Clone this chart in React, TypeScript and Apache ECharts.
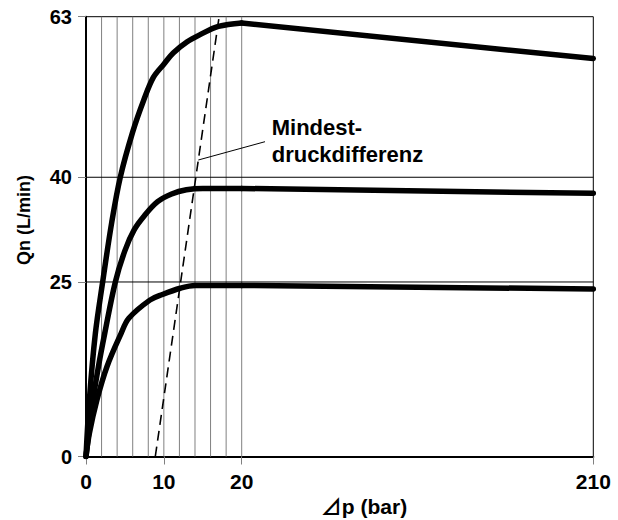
import React, { useEffect, useRef } from "react";
import * as echarts from "echarts";

// ---- data ----
const X_TICKS = [0, 10, 20, 210];
const Y_TICKS = [0, 25, 40, 63];
const GRID_X = [2, 4, 6, 8, 10, 12, 14, 16, 18, 20];
const GRID_Y = [25, 40];

const CURVE_63_X = [0, 0.43, 1.2, 2.14, 3.3, 4.4, 6.0, 7.4, 8.65, 10, 11.2, 13, 14.6, 17, 20, 210];
const CURVE_63_Y = [0, 8.1, 17.6, 25, 33.5, 40, 46.5, 51, 54.3, 56.2, 57.8, 59.4, 60.4, 61.6, 62.1, 57];

const CURVE_40_X = [0, 0.9, 1.6, 2.4, 3.77, 5, 6.2, 7.5, 9.2, 11, 12.9, 15, 20, 210];
const CURVE_40_Y = [0, 8.1, 12.9, 17.6, 25, 29.5, 32.5, 34.5, 36.5, 37.6, 38.2, 38.4, 38.4, 37.7];

const CURVE_25_X = [0, 0.43, 1.4, 2.7, 4.5, 5.5, 8.2, 9.8, 12.1, 14, 20, 210];
const CURVE_25_Y = [0, 3.3, 8.1, 12.9, 17.6, 19.8, 22.4, 23.2, 24.1, 24.5, 24.5, 24.0];

const DASH_X = [8.9, 17.1];
const DASH_Y = [0, 63];

// piecewise x scale: 0..20 linear, 20..210 compressed
const X_BREAK = 20;
const X_COMPRESS = 0.2377;
const tx = (x: number) => (x <= X_BREAK ? x : X_BREAK + (x - X_BREAK) * X_COMPRESS);
const T_MAX = tx(210);
const Y_MAX = 63;

const FONT = "'Liberation Sans', Arial, 'Noto Sans CJK JP', sans-serif";

const zip = (xs: number[], ys: number[]) => xs.map((x, i) => [tx(x), ys[i]]);

export default function App() {
  const ref = useRef<HTMLDivElement>(null);
  useEffect(() => {
    if (!ref.current) return;
    const chart = echarts.init(ref.current, null, { renderer: "svg" });

    const lineStyle = { color: "#000", width: 5.5, cap: "round", join: "round" };
    // curved rise up to the break (smooth) + straight run from the break to 210
    const curve = (name: string, xs: number[], ys: number[]) => {
      const k = xs.indexOf(X_BREAK);
      return [
        {
          name,
          type: "line",
          data: zip(xs.slice(0, k + 1), ys.slice(0, k + 1)),
          symbol: "none",
          smooth: 0.35,
          z: 5,
          silent: true,
          lineStyle,
        },
        {
          name,
          type: "line",
          data: zip(xs.slice(k), ys.slice(k)),
          symbol: "none",
          smooth: false,
          z: 5,
          silent: true,
          lineStyle,
        },
      ];
    };

    const gridV = GRID_X.map((x) => ({
      type: "line",
      data: [
        [tx(x), 0],
        [tx(x), Y_MAX],
      ],
      symbol: "none",
      z: 1,
      silent: true,
      lineStyle: { color: "#808080", width: 1 },
    }));
    const gridH = GRID_Y.map((y) => ({
      type: "line",
      data: [
        [0, y],
        [T_MAX, y],
      ],
      symbol: "none",
      z: 1,
      silent: true,
      lineStyle: { color: "#000", width: 1 },
    }));

    const option: any = {
      animation: false,
      grid: {
        left: 86,
        right: 24.7,
        top: 16.7,
        bottom: 63.5,
        show: true,
        borderColor: "#000",
        borderWidth: 1,
        backgroundColor: "transparent",
        outerBoundsMode: "none",
      },
      xAxis: {
        type: "value",
        min: 0,
        max: T_MAX,
        axisLine: { show: true, lineStyle: { color: "#000", width: 2 } },
        axisTick: {
          show: true,
          length: 8,
          customValues: X_TICKS.map(tx),
          lineStyle: { color: "#808080", width: 1 },
        },
        axisLabel: {
          customValues: X_TICKS.map(tx),
          margin: 14,
          color: "#000",
          fontWeight: "bold",
          fontSize: 21,
          fontFamily: FONT,
          formatter: (v: number) => {
            let best = X_TICKS[0];
            for (const x of X_TICKS) if (Math.abs(tx(x) - v) < Math.abs(tx(best) - v)) best = x;
            return String(best);
          },
        },
        splitLine: { show: false },
      },
      yAxis: {
        type: "value",
        min: 0,
        max: Y_MAX,
        axisLine: { show: true, lineStyle: { color: "#000", width: 2 } },
        axisTick: {
          show: true,
          length: 8,
          customValues: Y_TICKS,
          lineStyle: { color: "#808080", width: 1 },
        },
        axisLabel: {
          customValues: Y_TICKS,
          margin: 14,
          color: "#000",
          fontWeight: "bold",
          fontSize: 20,
          fontFamily: FONT,
        },
        splitLine: { show: false },
      },
      series: [
        ...gridV,
        ...gridH,
        {
          type: "line",
          data: zip(DASH_X, DASH_Y),
          symbol: "none",
          z: 4,
          silent: true,
          lineStyle: { color: "#000", width: 1.6, type: [10, 6] },
        },
        ...curve("63", CURVE_63_X, CURVE_63_Y),
        ...curve("40", CURVE_40_X, CURVE_40_Y),
        ...curve("25", CURVE_25_X, CURVE_25_Y),
      ],
      graphic: [
        {
          type: "line",
          shape: { x1: 198.3, y1: 160, x2: 265, y2: 141.7 },
          style: { stroke: "#000", lineWidth: 1 },
          z: 10,
        },
        {
          type: "text",
          x: 271.7,
          y: 127,
          style: {
            text: "Mindest-",
            fill: "#000",
            font: `bold 22px ${FONT}`,
            align: "left",
            verticalAlign: "middle",
          },
          z: 10,
        },
        {
          type: "text",
          x: 271.7,
          y: 154.4,
          style: {
            text: "druckdifferenz",
            fill: "#000",
            font: `bold 22px ${FONT}`,
            align: "left",
            verticalAlign: "middle",
          },
          z: 10,
        },
        {
          type: "text",
          x: 24,
          y: 220,
          rotation: Math.PI / 2,
          style: {
            text: "Qn (L/min)",
            fill: "#000",
            font: `bold 18px ${FONT}`,
            align: "center",
            verticalAlign: "middle",
          },
          z: 10,
        },
        {
          type: "text",
          x: 364,
          y: 506,
          style: {
            text: "⊿p (bar)",
            fill: "#000",
            font: `bold 21px ${FONT}`,
            align: "center",
            verticalAlign: "middle",
          },
          z: 10,
        },
      ],
    };
    chart.setOption(option);
    return () => chart.dispose();
  }, []);

  return (
    <div
      ref={ref}
      style={{ position: "fixed", left: 0, top: 0, width: 618, height: 520, background: "#fff" }}
    />
  );
}
